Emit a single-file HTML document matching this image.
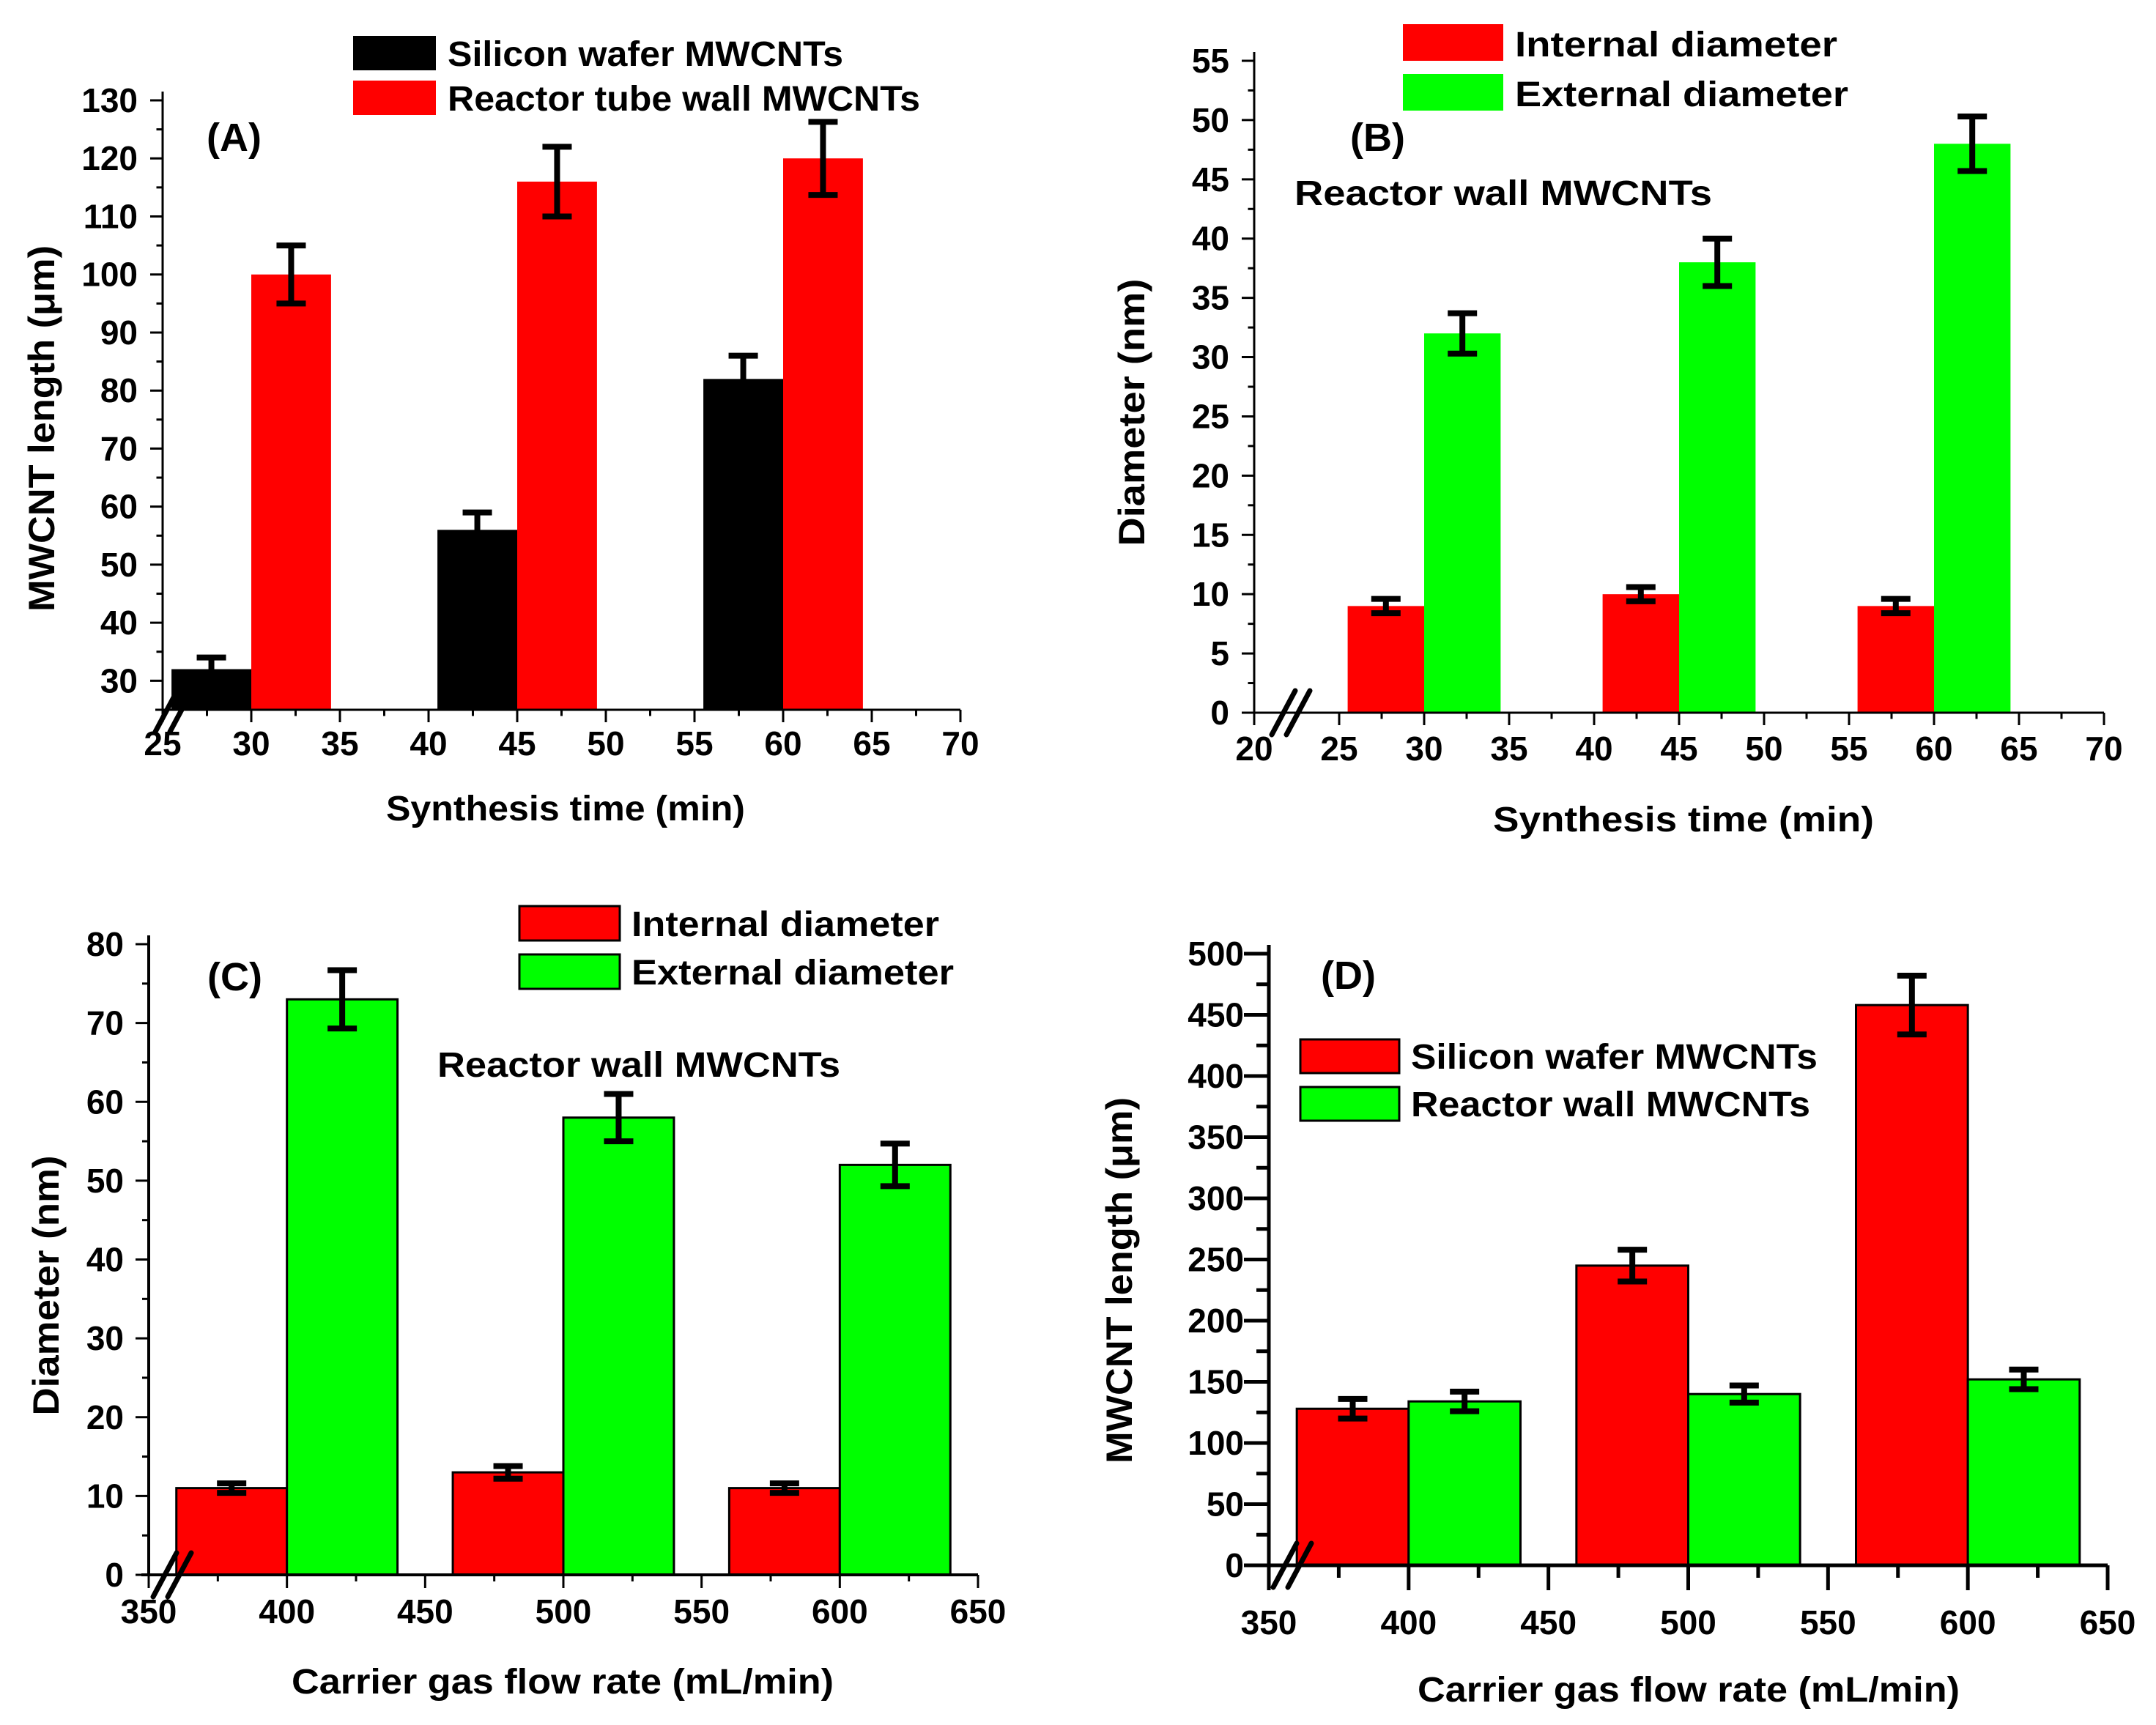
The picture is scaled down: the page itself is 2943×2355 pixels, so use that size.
<!DOCTYPE html>
<html><head><meta charset="utf-8">
<style>
html,body{margin:0;padding:0;background:#fff;}
svg{display:block;}
text{font-family:"Liberation Sans",Arial,sans-serif;font-weight:bold;fill:#000;}
</style></head>
<body>
<svg id="fig" width="2943" height="2355" viewBox="0 0 2943 2355" xmlns="http://www.w3.org/2000/svg"></svg>
<script>
// Panel A data
const aCats = [30, 45, 60];
const aSilicon = [32, 56, 82];
const aSiliconErr = [2, 3, 4];
const aReactor = [100, 116, 120];
const aReactorErr = [5, 6, 6.3];
const aXTicks = [25,30,35,40,45,50,55,60,65,70];
const aYTicks = [30,40,50,60,70,80,90,100,110,120,130];
// Panel B data
const bCats = [30, 45, 60];
const bInternal = [9, 10, 9];
const bInternalErr = [0.6, 0.6, 0.6];
const bExternal = [32, 38, 48];
const bExternalErr = [1.7, 2, 2.3];
const bXTicks = [20,25,30,35,40,45,50,55,60,65,70];
const bYTicks = [0,5,10,15,20,25,30,35,40,45,50,55];
// Panel C data
const cCats = [400, 500, 600];
const cInternal = [11, 13, 11];
const cInternalErr = [0.6, 0.8, 0.6];
const cExternal = [73, 58, 52];
const cExternalErr = [3.7, 3, 2.7];
const cXTicks = [350,400,450,500,550,600,650];
const cYTicks = [0,10,20,30,40,50,60,70,80];
// Panel D data
const dCats = [400, 500, 600];
const dSilicon = [128, 245, 458];
const dSiliconErr = [8, 13, 24];
const dReactor = [134, 140, 152];
const dReactorErr = [8, 7, 8];
const dXTicks = [350,400,450,500,550,600,650];
const dYTicks = [0,50,100,150,200,250,300,350,400,450,500];

const NS = "http://www.w3.org/2000/svg";
const svg = document.getElementById('fig');
function mk(tag, attrs, parent) {
  const e = document.createElementNS(NS, tag);
  for (const k in attrs) e.setAttribute(k, attrs[k]);
  (parent || svg).appendChild(e);
  return e;
}
function txt(str, attrs, parent) { const t = mk('text', attrs, parent); t.textContent = str; return t; }

function panel(p) {
  const g = mk('g', {});
  
  
  const sx = v => p.x0 + (v - p.xmin) / (p.xmax - p.xmin) * (p.x1 - p.x0);
  const sy = v => p.y0 - (v - p.ymin) / (p.ymax - p.ymin) * (p.y0 - p.y1);
  p.series.forEach((s, si) => {
    p.cats.forEach((c, i) => {
      const left = si === 0 ? c - p.bw : c;
      const xa = sx(left), xb = sx(left + p.bw);
      const yt = sy(s.vals[i]);
      const r = mk('rect', {x: xa, y: yt, width: xb - xa, height: p.y0 - yt, fill: s.color,
        stroke: p.outline ? '#000' : 'none', 'stroke-width': p.outline ? 3 : 0}, g);
      
      
      const cx = (xa + xb) / 2;
      const top = sy(s.vals[i] + s.err[i]), bot = sy(s.vals[i] - s.err[i]);
      const eb = mk('path', {d: `M${cx},${top}V${bot}M${cx-20},${top}H${cx+20}M${cx-20},${bot}H${cx+20}`,
        stroke: '#000', 'stroke-width': 8, fill: 'none'}, g);
      
      
    });
  });
  const ax = mk('path', {d: `M${p.x0},${p.y1 - 12}V${p.y0}M${p.x0 - 10},${p.y0}H${p.x1}`, stroke: '#000', 'stroke-width': p.axw, fill: 'none'}, g);
  
  
  const xt = mk('g', {}, g);
  
  
  p.xticks.forEach((v, i) => {
    const x = sx(v);
    mk('line', {x1: x, x2: x, y1: p.y0, y2: p.y0 + p.tl, stroke: '#000', 'stroke-width': p.tw}, xt);
    if (i < p.xticks.length - 1) {
      const m = sx(v + (p.xticks[1] - p.xticks[0]) / 2);
      mk('line', {x1: m, x2: m, y1: p.y0, y2: p.y0 + p.tl / 2, stroke: '#000', 'stroke-width': p.tw}, xt);
    }
    txt(String(v), {x: x, y: p.y0 + p.xlab, 'font-size': 46, 'text-anchor': 'middle'}, xt);
  });
  const yt = mk('g', {}, g);
  
  
  p.yticks.forEach((v, i) => {
    const y = sy(v);
    mk('line', {x1: p.x0, x2: p.x0 - p.tl, y1: y, y2: y, stroke: '#000', 'stroke-width': p.tw}, yt);
    const step = p.yticks[1] - p.yticks[0];
    const m = sy(v - step / 2);
    if (v - step / 2 >= p.ymin) mk('line', {x1: p.x0, x2: p.x0 - p.tl / 2, y1: m, y2: m, stroke: '#000', 'stroke-width': p.tw}, yt);
    txt(String(v), {x: p.x0 - 34, y: y + 16, 'font-size': 46, 'text-anchor': 'end'}, yt);
  });
  const bx = p.x0 + p.brk;
  const br = mk('path', {d: `M${bx-24},${p.y0+30}L${bx+8},${p.y0-30}M${bx-4},${p.y0+30}L${bx+28},${p.y0-30}`, stroke: '#000', 'stroke-width': 7, 'stroke-linecap': 'round', fill: 'none'}, g);
  
  
  const xtl = txt(p.xtitle, {x: p.xtx, y: p.xty, 'font-size': 48, 'text-anchor': 'middle', textLength: p.xtw, lengthAdjust: 'spacingAndGlyphs'}, g);
  
  
  const ytl = txt(p.ytitle, {x: 0, y: 0, 'font-size': 50, 'text-anchor': 'middle', textLength: p.ytw, lengthAdjust: 'spacingAndGlyphs', transform: `translate(${p.ytx},${p.yty}) rotate(-90)`}, g);
  
  
  const pl = txt(p.label, {x: p.lx, y: p.ly, 'font-size': 54}, g);
  
  
  if (p.note) {
    const nt = txt(p.note, {x: p.nx, y: p.ny, 'font-size': 48, textLength: p.nw, lengthAdjust: 'spacingAndGlyphs'}, g);
    
    
  }
  p.series.forEach((s, si) => {
    const lg = mk('g', {}, g);
    
    
    const ly = p.legY[si];
    mk('rect', {x: p.legX, y: ly, width: p.legW, height: p.legH, fill: s.color, stroke: p.outline ? '#000' : 'none', 'stroke-width': 3}, lg);
    txt(s.label, {x: p.legX + p.legW + 16, y: ly + p.legH - 6, 'font-size': 48, textLength: s.lw, lengthAdjust: 'spacingAndGlyphs'}, lg);
  });
}

panel({name: 'panel-a', x0: 222, x1: 1311, y0: 969, y1: 137, xmin: 25, xmax: 70, ymin: 25, ymax: 130,
  cats: aCats, bw: 4.5, outline: false, axw: 3, tl: 17, tw: 3, xlab: 62, brk: 14,
  xticks: aXTicks, yticks: aYTicks,
  series: [{key: 'silicon-wafer', label: 'Silicon wafer MWCNTs', color: '#000', vals: aSilicon, err: aSiliconErr, lw: 540},
           {key: 'reactor-tube-wall', label: 'Reactor tube wall MWCNTs', color: '#ff0000', vals: aReactor, err: aReactorErr, lw: 645}],
  legX: 482, legY: [49, 110], legW: 113, legH: 47,
  xtitle: 'Synthesis time (min)', xtx: 772, xty: 1120, xtw: 490,
  ytitle: 'MWCNT length (μm)', ytx: 74, yty: 585, ytw: 500,
  label: '(A)', lx: 282, ly: 206});

panel({name: 'panel-b', x0: 1712, x1: 2872, y0: 973, y1: 83, xmin: 20, xmax: 70, ymin: 0, ymax: 55,
  cats: bCats, bw: 4.5, outline: false, axw: 3, tl: 17, tw: 3, xlab: 65, brk: 48,
  xticks: bXTicks, yticks: bYTicks,
  series: [{key: 'internal-diameter', label: 'Internal diameter', color: '#ff0000', vals: bInternal, err: bInternalErr, lw: 440},
           {key: 'external-diameter', label: 'External diameter', color: '#00ff00', vals: bExternal, err: bExternalErr, lw: 455}],
  legX: 1915, legY: [33, 101], legW: 137, legH: 50,
  xtitle: 'Synthesis time (min)', xtx: 2298, xty: 1135, xtw: 520,
  ytitle: 'Diameter (nm)', ytx: 1562, yty: 563, ytw: 365,
  label: '(B)', lx: 1843, ly: 206, note: 'Reactor wall MWCNTs', nx: 1767, ny: 280, nw: 570});

panel({name: 'panel-c', x0: 203, x1: 1335, y0: 2150, y1: 1289, xmin: 350, xmax: 650, ymin: 0, ymax: 80,
  cats: cCats, bw: 40, outline: true, axw: 4, tl: 18, tw: 3, xlab: 66, brk: 30,
  xticks: cXTicks, yticks: cYTicks,
  series: [{key: 'internal-diameter', label: 'Internal diameter', color: '#ff0000', vals: cInternal, err: cInternalErr, lw: 420},
           {key: 'external-diameter', label: 'External diameter', color: '#00ff00', vals: cExternal, err: cExternalErr, lw: 440}],
  legX: 709, legY: [1237, 1303], legW: 137, legH: 47,
  xtitle: 'Carrier gas flow rate (mL/min)', xtx: 768, xty: 2312, xtw: 740,
  ytitle: 'Diameter (nm)', ytx: 80, yty: 1755, ytw: 355,
  label: '(C)', lx: 283, ly: 1352, note: 'Reactor wall MWCNTs', nx: 597, ny: 1470, nw: 550});

panel({name: 'panel-d', x0: 1732, x1: 2877, y0: 2137, y1: 1302, xmin: 350, xmax: 650, ymin: 0, ymax: 500,
  cats: dCats, bw: 40, outline: true, axw: 5, tl: 34, tw: 5, xlab: 94, brk: 30,
  xticks: dXTicks, yticks: dYTicks,
  series: [{key: 'silicon-wafer', label: 'Silicon wafer MWCNTs', color: '#ff0000', vals: dSilicon, err: dSiliconErr, lw: 555},
           {key: 'reactor-wall', label: 'Reactor wall MWCNTs', color: '#00ff00', vals: dReactor, err: dReactorErr, lw: 545}],
  legX: 1775, legY: [1419, 1484], legW: 135, legH: 46,
  xtitle: 'Carrier gas flow rate (mL/min)', xtx: 2305, xty: 2323, xtw: 740,
  ytitle: 'MWCNT length (μm)', ytx: 1545, yty: 1748, ytw: 500,
  label: '(D)', lx: 1803, ly: 1350});
</script>
</body></html>
